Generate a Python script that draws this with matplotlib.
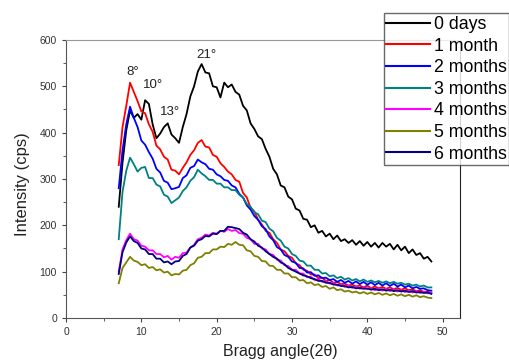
import numpy as np
import matplotlib
matplotlib.use("Agg")
import matplotlib.pyplot as plt
from matplotlib.ticker import MultipleLocator

plt.rcParams['font.family'] = ['Liberation Sans', 'DejaVu Sans']

# Bragg angle sampling grid (2theta, degrees)
angle = np.arange(7.0, 48.75, 0.5)

labels = ["0 days", "1 month", "2 months", "3 months", "4 months", "5 months", "6 months"]
colors = ["#000000", "#ff0000", "#0000ff", "#008080", "#ff00ff", "#808000", "#000080"]

days_0 = [240, 335, 405, 448, 432, 440, 428, 470, 462, 418,
          388, 398, 412, 420, 396, 388, 378, 412, 440, 478,
          500, 532, 548, 530, 528, 500, 498, 476, 508, 498,
          504, 488, 482, 458, 448, 420, 408, 392, 386, 365,
          348, 322, 310, 286, 282, 262, 256, 236, 232, 214,
          212, 196, 200, 184, 188, 176, 182, 170, 178, 166,
          170, 162, 168, 158, 166, 156, 164, 154, 162, 152,
          162, 154, 160, 148, 158, 146, 154, 140, 148, 136,
          140, 128, 132, 122]
month_1 = [330, 412, 458, 508, 488, 468, 446, 442, 418, 402,
           372, 364, 348, 342, 320, 318, 310, 324, 336, 352,
           362, 378, 384, 370, 368, 352, 348, 334, 326, 316,
           310, 298, 294, 270, 260, 238, 230, 212, 202, 188,
           184, 170, 162, 148, 144, 134, 130, 118, 114, 104,
           102, 94, 94, 86, 87, 80, 82, 76, 78, 73,
           74, 70, 72, 68, 70, 66, 70, 64, 68, 64,
           67, 63, 66, 62, 65, 61, 64, 60, 62, 58,
           60, 56, 57, 54]
month_2 = [280, 362, 418, 456, 432, 412, 383, 374, 358, 344,
           322, 314, 296, 292, 278, 280, 283, 302, 308, 324,
           328, 342, 336, 332, 322, 320, 310, 306, 298, 296,
           286, 282, 268, 260, 243, 234, 220, 212, 198, 192,
           176, 168, 153, 148, 136, 132, 122, 119, 108, 107,
           98, 99, 91, 92, 86, 87, 82, 84, 78, 82,
           76, 80, 74, 79, 73, 78, 72, 77, 71, 76,
           70, 75, 69, 74, 68, 72, 66, 70, 64, 67,
           63, 64, 60, 59]
month_3 = [170, 272, 318, 346, 332, 316, 324, 326, 302, 302,
           288, 284, 266, 262, 248, 254, 260, 274, 282, 296,
           304, 320, 312, 306, 298, 298, 290, 290, 282, 282,
           276, 276, 266, 260, 246, 240, 228, 224, 210, 207,
           193, 187, 173, 167, 154, 150, 138, 134, 124, 122,
           113, 113, 104, 104, 96, 97, 90, 92, 86, 89,
           83, 86, 81, 84, 79, 83, 78, 81, 77, 80,
           76, 79, 75, 78, 74, 76, 72, 74, 70, 72,
           68, 70, 66, 66]
month_4 = [100, 148, 168, 182, 170, 167, 156, 154, 146, 146,
           138, 138, 131, 134, 126, 132, 130, 140, 141, 152,
           158, 170, 173, 180, 178, 184, 182, 188, 186, 192,
           188, 190, 183, 182, 173, 170, 160, 160, 150, 148,
           138, 136, 126, 124, 114, 112, 104, 104, 96, 96,
           88, 89, 82, 84, 78, 80, 74, 76, 70, 72,
           67, 70, 65, 68, 63, 66, 62, 65, 60, 64,
           59, 63, 58, 62, 57, 60, 56, 59, 55, 58,
           54, 57, 53, 55]
month_5 = [75, 108, 120, 132, 124, 121, 114, 116, 108, 110,
           103, 105, 98, 100, 92, 95, 94, 102, 104, 114,
           118, 130, 132, 140, 140, 148, 148, 154, 153, 160,
           158, 164, 158, 157, 146, 144, 134, 132, 123, 122,
           113, 112, 104, 104, 96, 96, 88, 88, 81, 82,
           75, 77, 71, 73, 67, 69, 63, 66, 60, 62,
           57, 59, 55, 57, 53, 56, 52, 55, 51, 54,
           50, 53, 49, 52, 48, 51, 47, 50, 46, 49,
           45, 47, 44, 43]
month_6 = [95, 142, 163, 176, 166, 162, 150, 148, 138, 138,
           128, 128, 120, 122, 116, 122, 123, 134, 138, 152,
           156, 167, 170, 177, 176, 182, 181, 188, 188, 197,
           196, 194, 192, 184, 180, 170, 165, 156, 152, 144,
           138, 132, 128, 120, 116, 108, 104, 100, 96, 92,
           90, 86, 84, 80, 80, 76, 76, 72, 72, 69,
           69, 66, 67, 64, 65, 63, 64, 61, 63, 60,
           62, 59, 61, 58, 60, 57, 59, 56, 58, 55,
           56, 54, 55, 52]

series = [days_0, month_1, month_2, month_3, month_4, month_5, month_6]

# peak labels: text, x, y
peak_text = ["8°", "10°", "13°", "21°"]
peak_x = [8.9, 11.5, 13.8, 18.6]
peak_y = [531, 503, 445, 568]

fig = plt.figure(figsize=(5.09, 3.6), dpi=100)
ax = fig.add_axes([0.1297, 0.1167, 0.7740, 0.7722])

for vals, lab, col in zip(series, labels, colors):
    ax.plot(angle, vals, color=col, lw=1.3, label=lab)

for t, x, y in zip(peak_text, peak_x, peak_y):
    ax.text(x, y, t, fontsize=9.5, ha="center", va="center", color="#222222")

ax.set_xlim(0, 52.3)
ax.set_ylim(0, 600)
ax.xaxis.set_major_locator(MultipleLocator(10))
ax.xaxis.set_minor_locator(MultipleLocator(5))
ax.yaxis.set_major_locator(MultipleLocator(100))
ax.yaxis.set_minor_locator(MultipleLocator(50))
ax.tick_params(which="major", direction="out", length=3, labelsize=7.5,
               colors="#444444", labelcolor="#333333")
ax.tick_params(which="minor", direction="out", length=2, colors="#444444")
for s in ["left", "bottom"]:
    ax.spines[s].set_color("#555555")
ax.spines["top"].set_color("#999999")
ax.spines["right"].set_color("#222222")

ax.set_xlabel("Bragg angle(2θ)", fontsize=11.5, color="#222222")
ax.xaxis.set_label_coords(0.543, -0.092)
ax.set_ylabel("Intensity (cps)", fontsize=12, color="#222222")
ax.yaxis.set_label_coords(-0.092, 0.48)

leg = fig.legend(loc="upper left", bbox_to_anchor=(0.754, 0.963), fontsize=12.8,
                 handlelength=2.45, handletextpad=0.2, labelspacing=0.26,
                 borderpad=0.15, borderaxespad=0, fancybox=False,
                 frameon=True, edgecolor="#444444")
leg.get_frame().set_linewidth(1.0)
for line in leg.get_lines():
    line.set_linewidth(1.5)

fig.savefig("out.png", dpi=100)
